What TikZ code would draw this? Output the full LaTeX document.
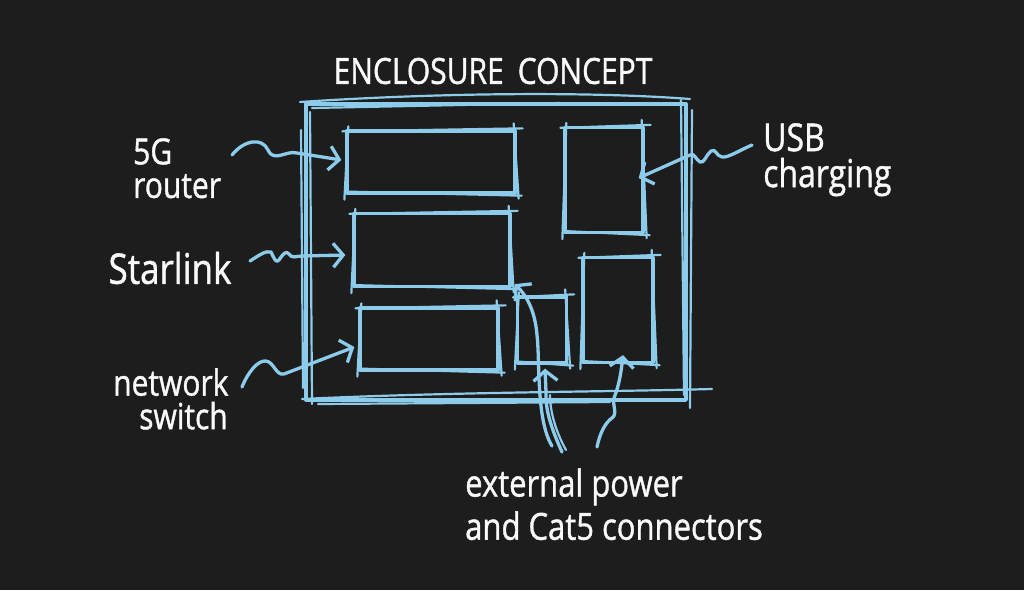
\documentclass[tikz,border=0pt]{standalone}
\usepackage{fontspec}
\setmainfont{Open Sans}[FakeBold=1.2]
\usetikzlibrary{arrows.meta}
\definecolor{bg}{HTML}{1D1D1D}
\definecolor{sk}{HTML}{8CCBEA}
\definecolor{ink}{HTML}{FAFAF8}
\newcommand\skbox[1]{%
 \draw[thin sk] ([shift={(-3,2)}]#1.north west) -- ([shift={(6,-1)}]#1.north east);
 \draw[thin sk] ([shift={(3,-3)}]#1.south west) -- ([shift={(5,1)}]#1.south east);
 \draw[thin sk] ([shift={(3,-3)}]#1.north west) -- ([shift={(-1,5)}]#1.south west);
 \draw[thin sk] ([shift={(-3,-6)}]#1.north east) -- ([shift={(2,4)}]#1.south east);
}
\begin{document}
\begin{tikzpicture}[x=1pt,y=-1pt,
  sketch/.style={draw=sk, line width=3.3pt, line cap=round, line join=round},
  thin sk/.style={draw=sk, line width=2.2pt, line cap=round},
  box/.style={sketch, rectangle, inner sep=0pt},
  lbl/.style={text=ink, font=\fontsize{30}{28}\selectfont, inner sep=0pt, align=left, yscale=1.2},
  arr/.style={sketch, -{Straight Barb[length=10pt,width=24pt]}}]
\fill[bg] (0,0) rectangle (1024,590);
\useasboundingbox (0,0) rectangle (1024,590);

% enclosure
\node[box, minimum width=380pt, minimum height=296pt] (encl) at (496,252) {};
\draw[thin sk] (300,102) .. controls (450,92) and (600,92) .. (690,99);
\draw[thin sk] (312,108) -- (560,103);
\draw[thin sk] (302,399) .. controls (450,392) and (600,392) .. (712,389);
\draw[thin sk] (318,404) -- (610,402);
\draw[thin sk] (310,112) -- (312,404);
\draw[thin sk] (301,130) -- (303,388);
\draw[thin sk] (681,100) -- (684,395);
\draw[thin sk] (692,110) -- (690,408);

% inner boxes
\node[box, minimum width=168pt, minimum height=62pt] (A) at (431,162) {};
\node[box, minimum width=156pt, minimum height=73pt] (B) at (432,250) {};
\node[box, minimum width=138pt, minimum height=62pt] (C) at (429,339) {};
\node[box, minimum width=49pt,  minimum height=66pt] (D) at (542,330) {};
\node[box, minimum width=70pt,  minimum height=105pt] (E) at (618,310) {};
\node[box, minimum width=78pt,  minimum height=105pt] (F) at (604,180) {};
\skbox{A}\skbox{B}\skbox{C}\skbox{D}\skbox{E}\skbox{F}

% labels
\node[lbl] (title) at (493,71) {ENCLOSURE\hspace{14pt}CONCEPT};
\node[lbl, anchor=north west] (l5g) at (133,138) {5G\\router};
\node[lbl, font=\fontsize{35}{28}\selectfont] (lstar) at (170,268) {Starlink};
\node[lbl, anchor=north west] (lnet) at (113,368) {network\\\hspace*{26pt}switch};
\node[lbl, font=\fontsize{32}{30}\selectfont, anchor=north west] (lusb) at (763,123) {USB\\charging};
\node[lbl, font=\fontsize{31}{36}\selectfont, anchor=north west] (lext) at (465,468) {external power\\and Cat5 connectors};

% arrow start points
\coordinate (s5g) at (232,155);
\coordinate (sstar) at (250,261);
\coordinate (snet) at (242,387);
\coordinate (susb) at (752,145);
\coordinate (sext1) at (562,452);
\coordinate (sext2) at (552,446);
\coordinate (sext3) at (597,447);

% connectors
\draw[arr] (s5g) .. controls (244,140) and (262,137) .. (268,150)
  .. controls (274,163) and (286,150) .. (297,153) -- ([shift={(-4,-2)}]A.west);
\draw[arr] (sstar) .. controls (258,256) and (266,250) .. (271,252)
  .. controls (274,258) and (276,264) .. (279,260)
  .. controls (283,254) and (286,250) .. (289,254)
  .. controls (292,259) and (296,256) .. (302,256) -- ([shift={(-7,5)}]B.west);
\draw[arr] (snet) .. controls (248,372) and (258,360) .. (266,361)
  .. controls (274,362) and (276,376) .. (284,374) -- ([shift={(-4,8)}]C.west);
\draw[arr] (susb) .. controls (740,150) and (728,158) .. (722,157)
  .. controls (716,156) and (716,148) .. (711,151)
  .. controls (706,155) and (704,164) .. (700,162)
  .. controls (696,160) and (694,152) .. (690,155)
  -- ([shift={(-6,-2)}]F.east);
\draw[arr] (sext1) .. controls (552,430) and (545,410) .. (546,392) -- ([shift={(3,4)}]D.south);
\draw[thin sk] (566,450) .. controls (556,432) and (550,412) .. (550,395);
\draw[arr] (sext2) .. controls (536,420) and (540,360) .. (537,335)
  .. controls (535,310) and (526,295) .. ([shift={(3,-4)}]B.south east);
\draw[arr] (sext3) .. controls (600,432) and (606,422) .. (612,418)
  .. controls (618,414) and (612,404) .. (614,398)
  .. controls (617,390) and (620,382) .. ([shift={(5,-9)}]E.south);
\end{tikzpicture}
\end{document}
